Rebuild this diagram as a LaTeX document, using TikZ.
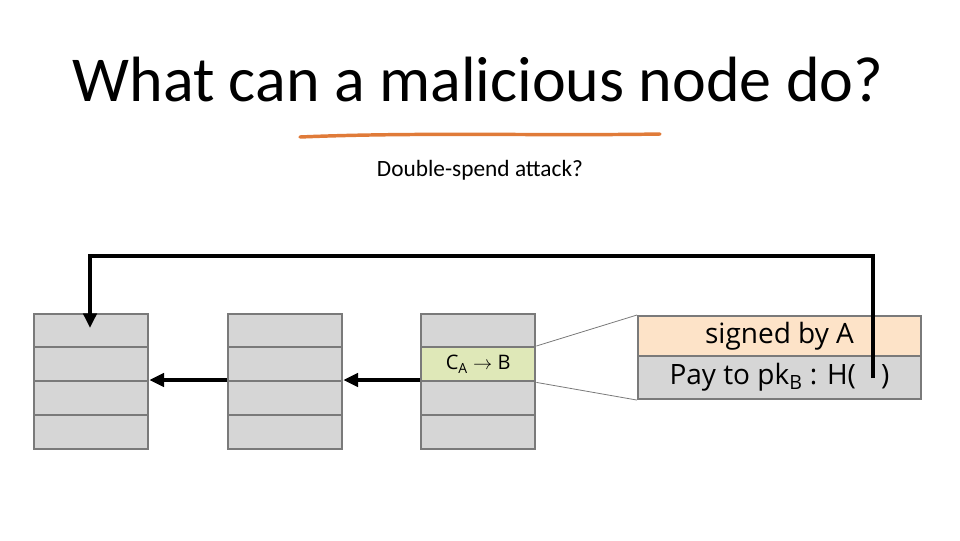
\documentclass[tikz,border=0pt]{standalone}
\usepackage{fontspec}
\setmainfont{Carlito}
\newfontfamily\diag{Open Sans}
\usetikzlibrary{arrows.meta}
\definecolor{cellgray}{HTML}{D6D6D6}
\definecolor{edgegray}{HTML}{7A7A7A}
\definecolor{cellgreen}{HTML}{DFE8B8}
\definecolor{cellorange}{HTML}{FDE3C8}
\definecolor{ulorange}{HTML}{E07B39}
\begin{document}
\begin{tikzpicture}[x=0.75pt,y=-0.75pt,
  cell/.style={draw=edgegray,line width=1.8pt,fill=cellgray,minimum width=85.5pt,minimum height=25.5pt,inner sep=0pt,anchor=north west},
  big/.style={draw=edgegray,line width=1.8pt,minimum width=212pt,inner sep=0pt,anchor=north west,font=\diag\fontsize{21}{24}\selectfont},
  link/.style={line width=2.6pt,-{Triangle[length=11pt,width=10pt]}}]
\useasboundingbox (0,0) rectangle (960,540);
\node (title) at (478,80) {\fontsize{48}{52}\selectfont What can a malicious node do?};
\draw[ulorange,line width=2.6pt,line cap=round] (300,137) .. controls (420,132) and (540,136) .. (660,134);
\node (sub) at (480,170) {\fontsize{17.5}{20}\selectfont Double-spend attack?};
% blocks
\foreach \b/\x in {a/33,b/227,c/420}{
  \foreach \r/\y in {1/313,2/346,3/380,4/414}{
    \node[cell] (\b\r) at (\x,\y) {};
  }
}
\node[cell,fill=cellgreen,font=\diag\fontsize{15}{17}\selectfont] (c2) at (420,346) {C\textsubscript{A} $\rightarrow$ B};
% big tx box
\node[big,fill=cellorange,minimum height=30pt] (sig) at (637,315) {signed by A};
\node[big,fill=cellgray,minimum height=32pt] (pay) at (637,355) {Pay to pk\textsubscript{B} : H(\hspace{0.9em})};
% zoom lines
\draw[edgegray,line width=0.6pt] (c2.north east) -- (sig.north west);
\draw[edgegray,line width=0.6pt] (c2.south east) -- (pay.south west);
% chain arrows
\draw[link] (b3.north west) -- (a3.north east);
\draw[link] (c3.north west) -- (b3.north east);
% loop
\coordinate (hs) at (873,378);
\coordinate (top) at (90,328);
\draw[link] (hs) -- (873,256) -- (90,256) -- (top);
\end{tikzpicture}
\end{document}
